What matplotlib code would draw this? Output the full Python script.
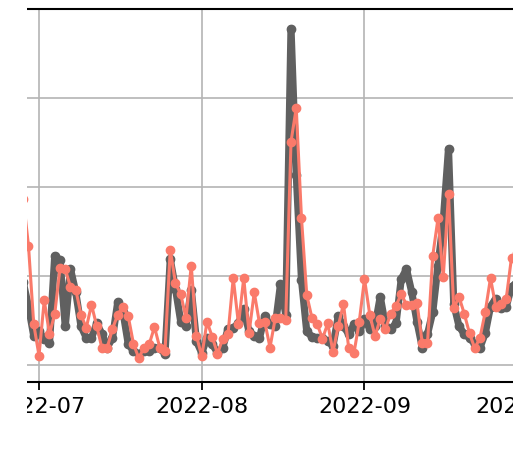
import numpy as np
import pandas as pd
import matplotlib
matplotlib.use("Agg")
import matplotlib.pyplot as plt
import matplotlib.dates as mdates
from matplotlib.patches import Rectangle

# daily values, 2022-06-28 .. 2022-09-30
dates = pd.date_range("2022-06-28", "2022-09-30", freq="D")

series_dark = [
    9.3, 6.6, 3.3,
    3.8, 3.0, 2.5, 12.3, 11.8, 4.4, 10.8, 8.2, 4.4, 3.1,
    3.1, 4.7, 3.5, 2.0, 3.1, 7.1, 6.0, 2.4, 1.6, 1.3,
    1.6, 1.6, 1.9, 1.9, 1.3, 11.9, 8.6, 4.9, 4.4, 8.5, 2.7,
    1.4, 3.1, 2.4, 1.4, 2.0, 4.1, 4.2, 4.7, 6.3, 3.8,
    3.3, 3.1, 5.5, 4.6, 4.4, 9.1, 5.7, 37.8, 21.4, 9.6,
    3.8, 3.2, 3.1, 3.1, 2.7, 2.2, 5.5, 4.4, 3.5, 4.6, 3.8,
    5.2, 4.1, 4.4, 7.7, 4.4, 4.1, 4.7, 9.7, 10.8, 8.2,
    4.9, 2.0, 3.5, 6.0, 11.2, 16.2, 24.3, 6.9, 4.4, 3.5,
    3.1, 2.4, 2.0, 3.6, 6.6, 7.5, 6.4, 6.6, 8.8, 9.3,
]

series_salmon = [
    18.7, 13.4, 4.6,
    1.1, 7.3, 3.5, 5.8, 10.9, 10.8, 8.8, 8.5, 5.7, 4.2,
    6.8, 4.4, 1.9, 2.0, 4.1, 5.7, 6.6, 5.5, 2.4, 0.8,
    2.0, 2.4, 4.3, 2.0, 1.6, 13.0, 9.2, 8.0, 5.3, 11.2, 3.3,
    1.0, 4.9, 3.2, 1.3, 3.0, 3.5, 9.8, 4.6, 9.8, 3.6,
    8.2, 4.7, 4.9, 2.0, 5.3, 5.3, 5.1, 25.1, 28.9, 16.5,
    7.9, 5.3, 4.6, 3.0, 4.7, 1.5, 4.4, 6.9, 1.9, 1.4, 4.9,
    9.7, 5.7, 3.3, 5.2, 4.1, 5.8, 6.7, 8.0, 6.8, 6.8,
    7.0, 2.5, 2.5, 12.3, 16.5, 9.9, 19.2, 6.4, 7.7, 5.8,
    3.6, 1.9, 3.1, 6.0, 9.8, 6.6, 6.9, 7.5, 12.1, 12.6,
]

W, H = 513, 454
fig = plt.figure(figsize=(W / 100, H / 100), dpi=100)

# axes runs past the right edge of the picture, like a cropped figure
px_day = 5.25
x0_px, x1_px = 27, 560
ax = fig.add_axes([x0_px / W, (H - 382) / H, (x1_px - x0_px) / W, (382 - 9) / H])

ax.plot(dates, series_dark, color="#606060", linewidth=5.2,
        marker="o", markersize=6, zorder=3)
ax.plot(dates, series_salmon, color="#fa7a6a", linewidth=2.2,
        marker="o", markersize=6, zorder=4)

jul1 = mdates.date2num(pd.Timestamp("2022-07-01"))
ax.set_xlim(jul1 - (39 - x0_px) / px_day, jul1 + (x1_px - 39) / px_day)
ax.set_ylim(-1.87, 39.1)

ax.xaxis.set_major_locator(mdates.MonthLocator())
ax.xaxis.set_major_formatter(mdates.DateFormatter("%Y-%m"))
ax.set_yticks([0, 10, 20, 30, 40])
ax.grid(True, color="#b4b4b4", linewidth=1.2)
ax.set_axisbelow(True)

ax.tick_params(axis="x", labelsize=16, length=6, width=1.3, pad=5)
ax.tick_params(axis="y", left=False, labelleft=False)
for side in ["left", "right"]:
    ax.spines[side].set_visible(False)
for side in ["top", "bottom"]:
    ax.spines[side].set_linewidth(1.5)

# white strip where the original image was cut off
fig.add_artist(Rectangle((0, 0), x0_px / W, 1, transform=fig.transFigure,
                         facecolor="white", edgecolor="none", zorder=10))

fig.savefig("out.png", dpi=100)
